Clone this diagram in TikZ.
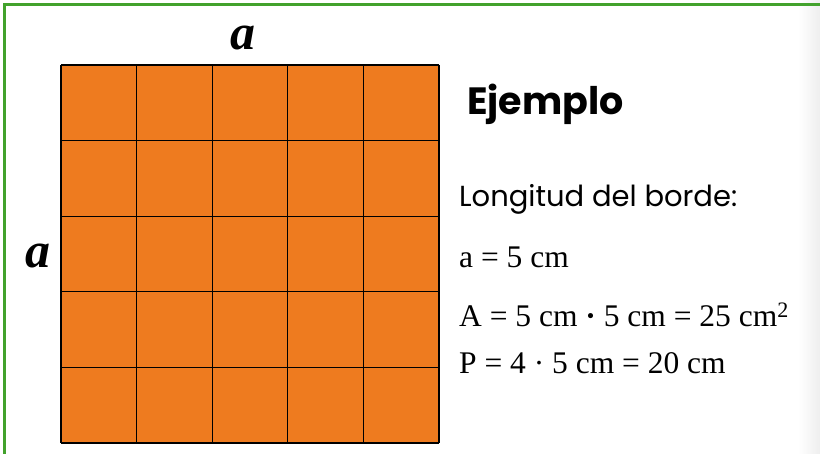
\documentclass[tikz,border=0pt]{standalone}
\usepackage{fontspec}
\setmainfont{Liberation Serif}
\newfontfamily\titlefont{Poppins}
\usetikzlibrary{shadings}
\definecolor{framegreen}{RGB}{66,162,44}
\definecolor{cellorange}{RGB}{238,123,31}
\definecolor{fadegray}{RGB}{238,238,238}
\tikzset{
  gridline/.style={draw=black,line width=1.3pt},
  sidelabel/.style={font=\fontsize{50}{50}\selectfont\bfseries\itshape,inner sep=0pt},
  formula/.style={anchor=base west,inner sep=0pt,font=\fontsize{31.5}{31.5}\selectfont},
  plain/.style={anchor=base west,inner sep=0pt,font=\titlefont\fontsize{29}{29}\selectfont},
}
\begin{document}
\begin{tikzpicture}[x=1pt,y=-1pt]
\useasboundingbox (0,0) rectangle (820,454);
\fill[white] (0,0) rectangle (820,454);
\shade[left color=white,right color=fadegray] (798,0) rectangle (820,454);
\draw[framegreen,line width=3pt] (4.5,454) -- (4.5,4.5) -- (820,4.5);
\fill[cellorange] (61,65) rectangle (439,443);
\foreach \k in {0,...,5}{
  \draw[gridline] ({61+75.6*\k},65) -- ({61+75.6*\k},443);
  \draw[gridline] (61,{65+75.6*\k}) -- (439,{65+75.6*\k});
}
\node[sidelabel] (top) at (243,38) {a};
\node[sidelabel] (left) at (38,256) {a};
\node[anchor=base west,inner sep=0pt,font=\titlefont\fontsize{38}{38}\selectfont\bfseries] (title) at (467,115) {Ejemplo};
\node[plain] (lang) at (459,207) {Longitud del borde:};
\node[formula] (f1) at (459,268) {a = 5 cm};
\node[formula] (f2) at (459,327) {A = 5 cm {\bfseries·} 5 cm = 25 cm\textsuperscript{2}};
\node[formula] (f3) at (459,374) {P = 4 · 5 cm = 20 cm};
\end{tikzpicture}
\end{document}
